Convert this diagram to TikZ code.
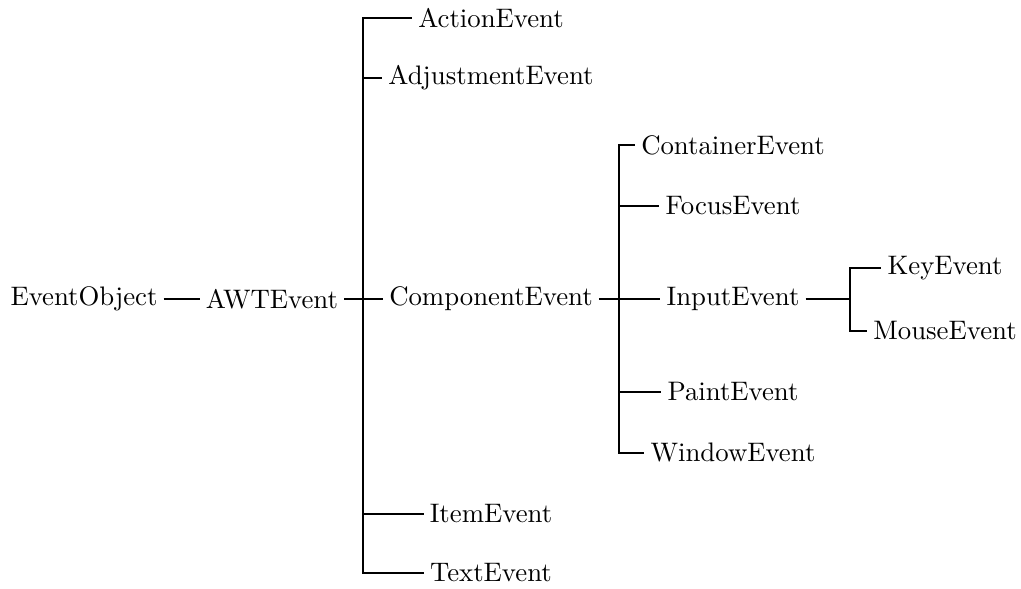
\documentclass[tikz,border=0pt]{standalone}
\begin{document}
\begin{tikzpicture}[x=0.3846pt,y=-0.3846pt,
  cls/.style={inner sep=2.2pt,anchor=center,font=\fontsize{10.3}{12}\selectfont},
  branch/.style={line width=0.75pt},
  stub/.style={line width=1.05pt}]
\useasboundingbox (0,0) rectangle (1021,589);

% root and first level
\node[cls] (eo)  at (84,299)  {EventObject};
\node[cls] (awt) at (272,299) {AWTEvent};

\node[cls] (action) at (491,18)  {ActionEvent};
\node[cls] (adjust) at (491,78)  {AdjustmentEvent};
\node[cls] (comp)   at (491,299) {ComponentEvent};
\node[cls] (item)   at (491,514) {ItemEvent};
\node[cls] (text)   at (491,573) {TextEvent};

% children of ComponentEvent
\node[cls] (cont)   at (733,145) {ContainerEvent};
\node[cls] (focus)  at (733,206) {FocusEvent};
\node[cls] (input)  at (733,299) {InputEvent};
\node[cls] (paint)  at (733,392) {PaintEvent};
\node[cls] (window) at (733,453) {WindowEvent};

% children of InputEvent
\node[cls] (key)   at (945,268) {KeyEvent};
\node[cls] (mouse) at (945,331) {MouseEvent};

% fork points
\coordinate (f1) at (363,299);
\coordinate (f2) at (619,299);
\coordinate (f3) at (850,299);

\draw[branch] (eo) -- (awt);

\draw[stub] (awt.east) -- (f1);
\foreach \c in {action,adjust,comp,item,text}
  \draw[branch] (f1) |- (\c.west);

\draw[stub] (comp.east) -- (f2);
\foreach \c in {cont,focus,input,paint,window}
  \draw[branch] (f2) |- (\c.west);

\draw[stub] (input.east) -- (f3);
\foreach \c in {key,mouse}
  \draw[branch] (f3) |- (\c.west);
\end{tikzpicture}
\end{document}
